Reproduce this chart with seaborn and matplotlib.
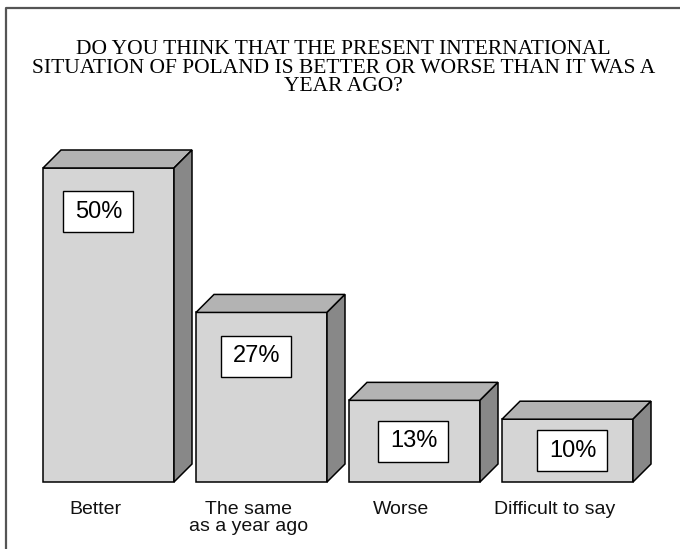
import matplotlib
matplotlib.use("Agg")
import matplotlib.pyplot as plt
from matplotlib.patches import Polygon, Rectangle
from matplotlib.lines import Line2D
import seaborn as sns

# data
categories = ["Better", "The same\nas a year ago", "Worse", "Difficult to say"]
values = [50, 27, 13, 10]
value_labels = ["50%", "27%", "13%", "10%"]

title = ("DO YOU THINK THAT THE PRESENT INTERNATIONAL\n"
         "SITUATION OF POLAND IS BETTER OR WORSE THAN IT WAS A\n"
         "YEAR AGO?")

# layout (pixels)
STEP = 153.0      # px per category
PX_Y = 6.28       # px per percent
DEPTH = 18.0
box_shift_px = [-10, -5, -1, 5]

FRONT = "#d5d5d5"
TOP = "#b3b3b3"
SIDE = "#888888"

sns.set_theme(style="white")
plt.rcParams["font.family"] = ["Liberation Sans", "DejaVu Sans"]

fig = plt.figure(figsize=(6.8, 5.49), dpi=100)
ax = fig.add_axes([0, 0, 1, 1])

sns.barplot(x=categories, y=values, color=FRONT, saturation=1,
            edgecolor="black", linewidth=1.1, width=131 / STEP, ax=ax, zorder=2)

dx = DEPTH / STEP
dy = DEPTH / PX_Y
for i, p in enumerate(ax.patches):
    x0, w, h = p.get_x(), p.get_width(), p.get_height()
    top = Polygon([(x0, h), (x0 + dx, h + dy), (x0 + w + dx, h + dy), (x0 + w, h)],
                  closed=True, facecolor=TOP, edgecolor="black", linewidth=1.1, zorder=2)
    side = Polygon([(x0 + w, 0), (x0 + w, h), (x0 + w + dx, h + dy), (x0 + w + dx, dy)],
                   closed=True, facecolor=SIDE, edgecolor="black", linewidth=1.1, zorder=2)
    ax.add_patch(top)
    ax.add_patch(side)

    # value box
    v = values[i]
    cx = x0 + w / 2 + box_shift_px[i] / STEP
    cy = max(v / 2, v - 7)
    bw, bh = 70 / STEP, 41 / PX_Y
    ax.add_patch(Rectangle((cx - bw / 2, cy - bh / 2), bw, bh, facecolor="white",
                           edgecolor="black", linewidth=1.0, zorder=3))
    ax.text(cx, cy, value_labels[i], ha="center", va="center", fontsize=17,
            color="black", zorder=4)

    # category label
    ax.text(x0 + w / 2 - 13 / STEP, -3.0, categories[i], ha="center", va="top",
            fontsize=14, linespacing=1.05, color="#111111")

ax.set_xlim(-108.5 / STEP, (680 - 108.5) / STEP)
ax.set_ylim(-67 / PX_Y, 482 / PX_Y)
ax.axis("off")

fig.text(0.505, 1 - 40 / 549, title, ha="center", va="top", fontsize=15.5,
         family=["Liberation Serif", "DejaVu Serif"], linespacing=0.97, color="black")

# frame (top and left edges only)
fx = 6 / 680
fy = 1 - 8 / 549
fig.add_artist(Line2D([fx, fx, 1], [0, fy, fy], transform=fig.transFigure,
                      color="#555555", linewidth=1.6))

fig.savefig("out.png", dpi=100)
